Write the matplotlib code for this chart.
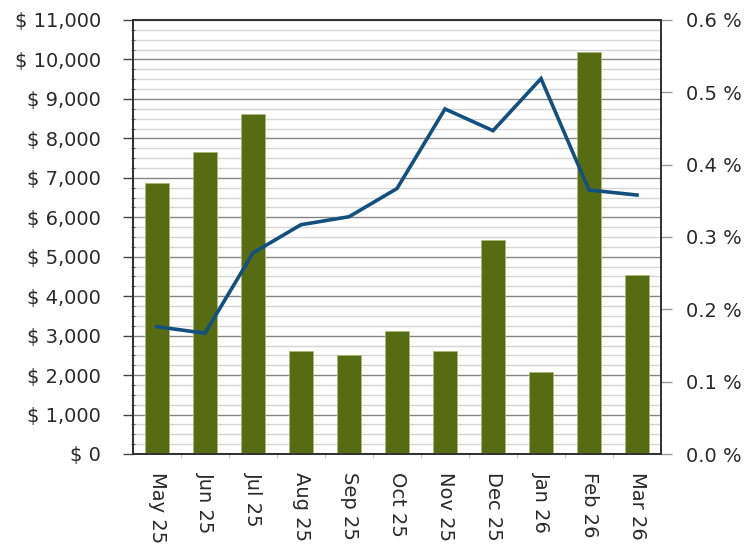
import matplotlib
matplotlib.use("Agg")
import matplotlib.pyplot as plt
from matplotlib.ticker import MultipleLocator, FuncFormatter

plt.rcParams['font.family'] = ['DejaVu Sans']

months = ["May 25", "Jun 25", "Jul 25", "Aug 25", "Sep 25", "Oct 25",
          "Nov 25", "Dec 25", "Jan 26", "Feb 26", "Mar 26"]
amounts = [6880, 7650, 8610, 2620, 2510, 3130, 2620, 5425, 2070, 10190, 4540]
rates = [0.176, 0.167, 0.278, 0.317, 0.328, 0.367, 0.477, 0.447, 0.519, 0.365, 0.358]

fig = plt.figure(figsize=(7.46, 5.5), dpi=100)
ax = fig.add_axes([133 / 746, 96 / 550, 528 / 746, 434 / 550])
x = range(len(months))

ax.bar(x, amounts, width=0.5, color="#566b12", edgecolor="#a9b77a", linewidth=0.6, zorder=3)
ax.set_xlim(-0.5, len(months) - 0.5)
ax.set_ylim(0, 11000)
ax.yaxis.set_major_locator(MultipleLocator(1000))
ax.yaxis.set_minor_locator(MultipleLocator(250))
ax.yaxis.set_major_formatter(FuncFormatter(lambda v, p: f"$ {v:,.0f}"))
ax.grid(which="major", axis="y", color="#858585", linewidth=1.0, zorder=0)
ax.grid(which="minor", axis="y", color="#d6d6d6", linewidth=1.0, zorder=0)
ax.set_axisbelow(True)
ax.set_xticks(list(x))
ax.set_xticklabels(months, rotation=270, va="top", ha="center", fontsize=14, color="#2a2a2a")
ax.set_xticks([i + 0.5 for i in range(len(months) - 1)], minor=True)
ax.tick_params(axis="x", which="major", length=0, pad=13)
ax.tick_params(axis="x", which="minor", length=3, color="#c0c0c0")
ax.tick_params(axis="y", which="major", length=7, width=1, labelsize=14, pad=16,
               labelcolor="#2a2a2a", color="#444444")
ax.tick_params(axis="y", which="minor", length=3, width=0.8, direction="inout", color="#666666")

ax2 = ax.twinx()
ax2.plot(x, rates, color="#11507f", linewidth=2.6, solid_joinstyle="miter", zorder=4)
ax2.set_ylim(0, 0.6)
ax2.yaxis.set_major_locator(MultipleLocator(0.1))
ax2.yaxis.set_major_formatter(FuncFormatter(lambda v, p: f"{v:.1f} %"))
ax2.tick_params(axis="y", length=8, width=1, labelsize=14, pad=10, color="#999999",
                labelcolor="#2a2a2a")

for a in (ax, ax2):
    for s in a.spines.values():
        s.set_color("#333333")
        s.set_linewidth(1.4)
ax.spines["left"].set_color("#111111")

fig.savefig("out.png", dpi=100)
